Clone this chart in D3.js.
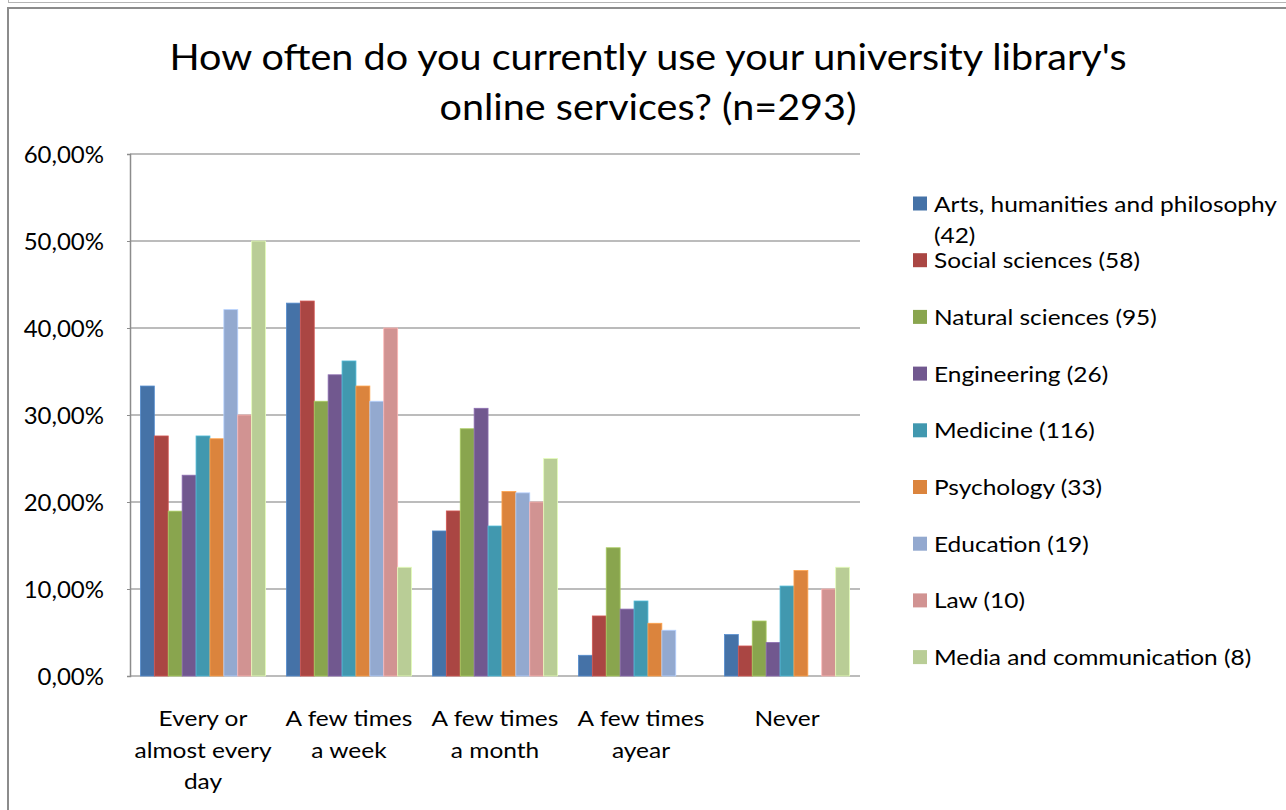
<!DOCTYPE html>
<html><head><meta charset="utf-8">
<script src="https://cdn.jsdelivr.net/npm/d3@7"></script>
<style>html,body{margin:0;padding:0;background:#fff;overflow:hidden}</style>
</head><body><svg id="c" width="1286" height="810"></svg>
<script>
const titleLines = ["How often do you currently use your university library's", "online services? (n=293)"];
const categories = ["Every or almost every day", "A few times a week", "A few times a month", "A few times ayear", "Never"];
const categoryLines = [["Every or", "almost every", "day"], ["A few times", "a week"], ["A few times", "a month"], ["A few times", "ayear"], ["Never"]];
const seriesNames = ["Arts, humanities and philosophy (42)", "Social sciences (58)", "Natural sciences (95)", "Engineering (26)", "Medicine (116)", "Psychology (33)", "Education (19)", "Law (10)", "Media and communication (8)"];
const legendLines = [["Arts, humanities and philosophy", "(42)"], ["Social sciences (58)"], ["Natural sciences (95)"], ["Engineering (26)"], ["Medicine (116)"], ["Psychology (33)"], ["Education (19)"], ["Law (10)"], ["Media and communication (8)"]];
const seriesColors = ["#4572A7", "#AA4643", "#89A54E", "#71588F", "#4198AF", "#DB843D", "#93A9CF", "#D19392", "#B9CD96"];
// percentages per series, in category order
const arts = [33.33, 42.86, 16.67, 2.38, 4.76];
const social = [27.59, 43.10, 18.97, 6.90, 3.45];
const natural = [18.95, 31.58, 28.42, 14.74, 6.32];
const engineering = [23.08, 34.62, 30.77, 7.69, 3.85];
const medicine = [27.59, 36.21, 17.24, 8.62, 10.34];
const psychology = [27.27, 33.33, 21.21, 6.06, 12.12];
const education = [42.11, 31.58, 21.05, 5.26, 0];
const law = [30.00, 40.00, 20.00, 0, 10.00];
const media = [50.00, 12.50, 25.00, 0, 12.50];
const seriesValues = [arts, social, natural, engineering, medicine, psychology, education, law, media];
const yTicks = [0, 10, 20, 30, 40, 50, 60];

const svg = d3.select("#c");
const FONT = "Lato, 'Open Sans', sans-serif";
const plot = {left: 130, right: 860, top: 154, bottom: 676};

// frame
svg.append("line").attr("x1", 8).attr("x2", 1286).attr("y1", 2.5).attr("y2", 2.5).attr("stroke", "#b5b5b5").attr("stroke-width", 1);
svg.append("line").attr("x1", 8.5).attr("x2", 8.5).attr("y1", 0).attr("y2", 3).attr("stroke", "#b5b5b5").attr("stroke-width", 1);
svg.append("line").attr("x1", 7).attr("x2", 1286).attr("y1", 8).attr("y2", 8).attr("stroke", "#8c8c8c").attr("stroke-width", 2);
svg.append("line").attr("x1", 8).attr("x2", 8).attr("y1", 7).attr("y2", 810).attr("stroke", "#8c8c8c").attr("stroke-width", 2);

function measure(text, size) {
  const t = svg.append("text").attr("font-family", FONT).attr("font-size", size).text(text);
  const w = t.node().getComputedTextLength(); t.remove(); return w;
}
function condense(sel, k, size) {
  sel.each(function(d) {
    const n = measure(d3.select(this).text(), size);
    d3.select(this).attr("textLength", n * k).attr("lengthAdjust", "spacingAndGlyphs");
  });
}

// title
const titleSize = 37;
const kTitle = 957 / measure(titleLines[0], titleSize);
svg.append("g").selectAll("text").data(titleLines).join("text")
  .attr("x", 648).attr("y", (d, i) => 70 + i * 50)
  .attr("text-anchor", "middle").attr("font-family", FONT).attr("font-size", titleSize).attr("fill", "#000")
  .text(d => d).call(condense, kTitle, titleSize);

// scales
const y = d3.scaleLinear().domain([0, 60]).range([plot.bottom, plot.top]);
const x0 = d3.scaleBand().domain(categories).range([plot.left, plot.right]).paddingInner(0).paddingOuter(0);
const x1 = d3.scaleBand().domain(seriesNames).range([0, x0.bandwidth()]).paddingInner(0).paddingOuter(0.75);

// gridlines
svg.append("g").selectAll("line").data(yTicks).join("line")
  .attr("x1", plot.left).attr("x2", plot.right)
  .attr("y1", d => y(d)).attr("y2", d => y(d))
  .attr("stroke", "#a6a6a6").attr("stroke-width", 1.5);

// y axis (line + ticks from d3 axis, labels drawn as plain text)
const locale = d3.formatLocale({decimal: ",", thousands: ".", grouping: [3], currency: ["", "€"], percent: "%"});
const fmt = locale.format(".2%");
const yAxis = svg.append("g").attr("transform", `translate(${plot.left},0)`)
  .call(d3.axisLeft(y).tickValues(yTicks).tickSize(3).tickFormat(""));
yAxis.select(".domain").attr("stroke", "#8c8c8c").attr("stroke-width", 1.5);
yAxis.selectAll(".tick line").attr("stroke", "#8c8c8c");
svg.append("g").selectAll("text").data(yTicks).join("text")
  .attr("x", 104).attr("y", d => y(d)).attr("dy", "0.36em")
  .attr("text-anchor", "end")
  .style("font-family", FONT).style("font-size", "24px").attr("fill", "#000")
  .text(d => fmt(d / 100));

// bars
const barData = [];
seriesNames.forEach((s, si) => categories.forEach((c, ci) => {
  if (seriesValues[si][ci] > 0) barData.push({s, c, v: seriesValues[si][ci], color: seriesColors[si]});
}));
svg.append("g").selectAll("rect").data(barData).join("rect")
  .attr("x", d => x0(d.c) + x1(d.s))
  .attr("width", x1.bandwidth())
  .attr("y", d => y(d.v))
  .attr("height", d => y(0) - y(d.v))
  .attr("fill", d => d.color)
  .attr("stroke", d => d3.color(d.color).brighter(0.6))
  .attr("stroke-width", 0.8);

// x labels
const xSize = 22;
const kX = 137 / measure("almost every", xSize);
const xl = svg.append("g");
categories.forEach((c, ci) => {
  const cx = x0(c) + x0.bandwidth() / 2;
  xl.append("g").selectAll("text").data(categoryLines[ci]).join("text")
    .attr("x", cx).attr("y", (d, i) => 726 + i * 31.5)
    .attr("text-anchor", "middle").attr("font-family", FONT).attr("font-size", xSize).attr("fill", "#000")
    .text(d => d).call(condense, kX, xSize);
});

// legend
const lSize = 22;
const kL = 206 / measure("Social sciences (58)", lSize);
const leg = svg.append("g");
seriesNames.forEach((s, si) => {
  const cy = 203.5 + si * 56.7;
  leg.append("rect").attr("x", 913).attr("y", cy - 7).attr("width", 14).attr("height", 14).attr("fill", seriesColors[si]);
  leg.append("g").selectAll("text").data(legendLines[si]).join("text")
    .attr("x", 934).attr("y", (d, i) => cy + 8 + i * 31.5)
    .attr("font-family", FONT).attr("font-size", lSize).attr("fill", "#000")
    .text(d => d).call(condense, kL, lSize);
});
</script></body></html>
